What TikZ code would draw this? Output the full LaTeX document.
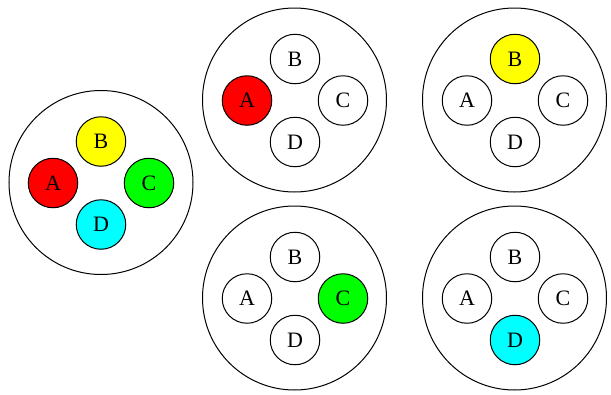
\documentclass[tikz,border=0pt]{standalone}
\usepackage{fontspec}
\setmainfont{Liberation Serif}
\definecolor{pinred}{RGB}{255,0,0}
\definecolor{pinyellow}{RGB}{255,255,0}
\definecolor{pingreen}{RGB}{0,255,0}
\definecolor{pincyan}{RGB}{0,255,255}
\begin{document}
\begin{tikzpicture}[x=1pt, y=-1pt,
    plate/.style ={circle, draw, line width=1pt, minimum size=184pt, inner sep=0pt},
    pin/.style ={circle, draw, line width=1pt, minimum size=49.5pt, inner sep=0pt,
                 font=\fontsize{22}{24}\selectfont}]
   \useasboundingbox (0,0) rectangle (611,394);
   % the whole plug
   \node[plate] (P0) at (101,182.5) {};
   \node[pin, fill=pinyellow] (B0) at (101,141.5) {B};
   \node[pin, fill=pinred]    (A0) at (53,183)    {A};
   \node[pin, fill=pingreen]  (C0) at (149,183)   {C};
   \node[pin, fill=pincyan]   (D0) at (101,224.5) {D};
   % only A
   \node[plate] (P1) at (294.5,100) {};
   \node[pin]               (B1) at (295,59)  {B};
   \node[pin, fill=pinred]  (A1) at (247,100.5) {A};
   \node[pin]               (C1) at (343,100.5) {C};
   \node[pin]               (D1) at (295,142) {D};
   % only B
   \node[plate] (P2) at (514.5,100) {};
   \node[pin, fill=pinyellow] (B2) at (515,59)  {B};
   \node[pin]                 (A2) at (467,100.5) {A};
   \node[pin]                 (C2) at (563,100.5) {C};
   \node[pin]                 (D2) at (515,142) {D};
   % only C
   \node[plate] (P3) at (294.5,298) {};
   \node[pin]                (B3) at (295,257)  {B};
   \node[pin]                (A3) at (247,298.5) {A};
   \node[pin, fill=pingreen] (C3) at (343,298.5) {C};
   \node[pin]                (D3) at (295,340)  {D};
   % only D
   \node[plate] (P4) at (514.5,298) {};
   \node[pin]               (B4) at (515,257)  {B};
   \node[pin]               (A4) at (467,298.5) {A};
   \node[pin]               (C4) at (563,298.5) {C};
   \node[pin, fill=pincyan] (D4) at (515,340)  {D};
\end{tikzpicture}
\end{document}
